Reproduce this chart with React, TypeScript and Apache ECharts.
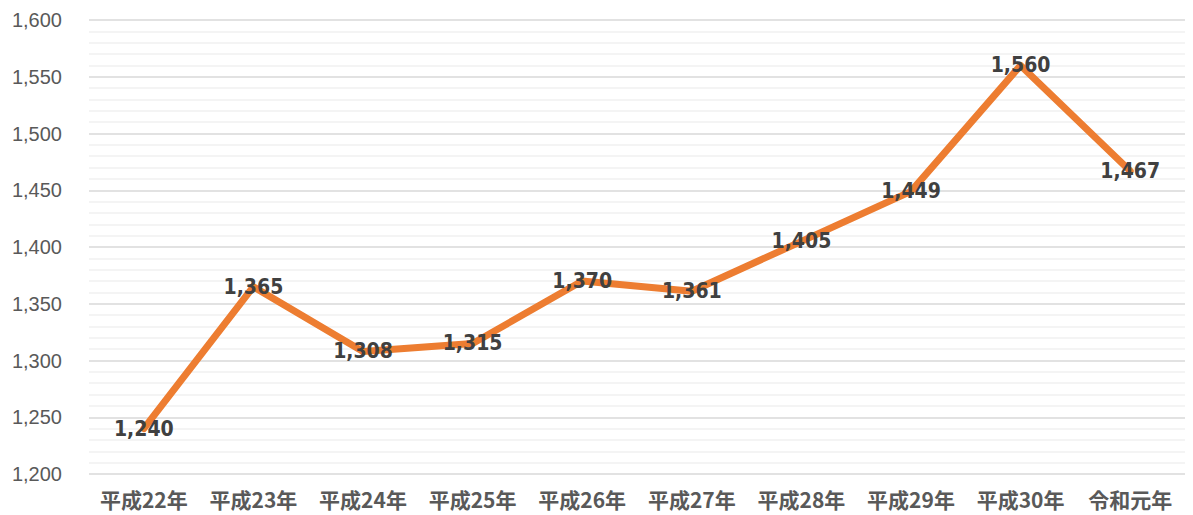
import React, { useEffect, useRef } from "react";
import * as echarts from "echarts";

const categories = ["平成22年", "平成23年", "平成24年", "平成25年", "平成26年", "平成27年", "平成28年", "平成29年", "平成30年", "令和元年"];
const values = [1240, 1365, 1308, 1315, 1370, 1361, 1405, 1449, 1560, 1467];
const yMin = 1200;
const yMax = 1600;
const yInterval = 50;

const CJK = "'Noto Sans CJK JP', 'Noto Sans', sans-serif";
const NARROW = "'DejaVu Sans Condensed', 'Liberation Sans', sans-serif";

export default function App() {
  const ref = useRef<HTMLDivElement>(null);
  useEffect(() => {
    if (!ref.current) return;
    const chart = echarts.init(ref.current, undefined, { renderer: "svg" });
    chart.setOption({
      animation: false,
      backgroundColor: "#ffffff",
      grid: { left: 89, right: 8, top: 20, bottom: 41, containLabel: false },
      xAxis: {
        type: "category",
        data: categories,
        boundaryGap: true,
        axisLine: { show: false },
        axisTick: { show: false },
        axisLabel: {
          interval: 0,
          color: "#595959",
          fontSize: 21,
          fontWeight: "bold",
          fontFamily: CJK,
          margin: 14,
        },
      },
      yAxis: {
        type: "value",
        min: yMin,
        max: yMax,
        interval: yInterval,
        axisLine: { show: false },
        axisTick: { show: false },
        axisLabel: {
          color: "#595959",
          fontSize: 20,
          fontFamily: "'Liberation Sans', Arial, sans-serif",
          margin: 27,
          formatter: (v: number) => v.toLocaleString("en-US"),
        },
        splitLine: { show: true, lineStyle: { color: "#d9d9d9", width: 1.5 } },
        minorTick: { show: false, splitNumber: 5 },
        minorSplitLine: { show: true, lineStyle: { color: "#f0f0f0", width: 1.5 } },
      },
      series: [
        {
          type: "line",
          data: values,
          symbol: "circle",
          symbolSize: 1,
          showSymbol: true,
          lineStyle: { color: "#ED7D31", width: 7, cap: "round", join: "round" },
          itemStyle: { color: "#ED7D31" },
          label: {
            show: true,
            position: "inside",
            color: "#404040",
            fontSize: 21,
            fontWeight: "bold",
            fontFamily: NARROW,
            formatter: (p: any) => Number(p.value).toLocaleString("en-US"),
          },
        },
      ],
    });
    return () => chart.dispose();
  }, []);
  return <div ref={ref} style={{ position: "fixed", left: 0, top: 0, width: 1193, height: 515 }} />;
}
